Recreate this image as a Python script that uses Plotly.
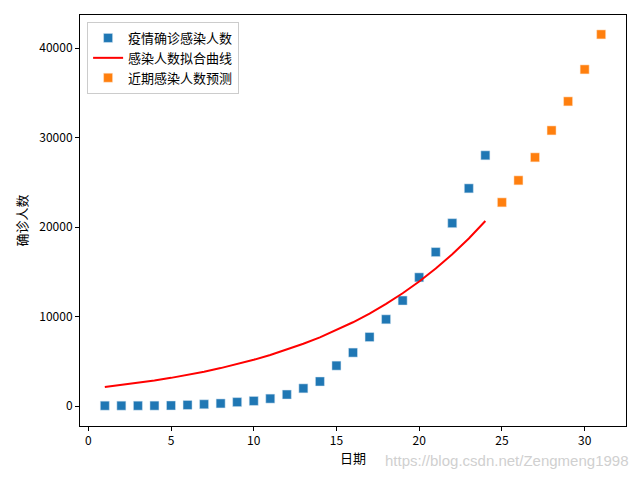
import plotly.graph_objects as go

days_obs = list(range(1, 25))
confirmed = [41, 41, 41, 45, 62, 121, 198, 291, 440, 571, 830, 1287, 1975, 2744,
             4515, 5974, 7711, 9692, 11791, 14380, 17205, 20438, 24324, 28018]
fit_days = list(range(1, 25))
fit_values = [2120, 2341, 2584, 2853, 3150, 3478, 3840, 4240, 4681, 5168, 5706, 6300,
              6956, 7680, 8480, 9362, 10337, 11413, 12601, 13912, 15360, 16960, 18725, 20674]
days_pred = list(range(25, 32))
predicted = [22760, 25220, 27790, 30800, 34045, 37620, 41530]

x_ticks = [0, 5, 10, 15, 20, 25, 30]
y_ticks = [0, 10000, 20000, 30000, 40000]

font = "Noto Sans CJK SC, DejaVu Sans, sans-serif"

fig = go.Figure()
fig.add_trace(go.Scatter(x=days_obs, y=confirmed, mode="markers", name="疫情确诊感染人数",
                         marker=dict(symbol="square", size=9, color="#1f77b4",
                                     line=dict(width=0.5, color="#d8e6f2"))))
fig.add_trace(go.Scatter(x=fit_days, y=fit_values, mode="lines", name="感染人数拟合曲线",
                         line=dict(color="red", width=2)))
fig.add_trace(go.Scatter(x=days_pred, y=predicted, mode="markers", name="近期感染人数预测",
                         marker=dict(symbol="square", size=9, color="#ff7f0e",
                                     line=dict(width=0.5, color="#ffe6d0"))))

axis_common = dict(showline=True, linecolor="black", linewidth=1, mirror=True,
                   ticks="outside", ticklen=4, tickcolor="black", showgrid=False,
                   zeroline=False, tickfont=dict(size=12, color="black", family=font))

fig.update_layout(
    width=640, height=480,
    margin=dict(l=80, r=14, t=15, b=54),
    paper_bgcolor="white", plot_bgcolor="white",
    font=dict(family=font, size=13, color="black"),
    xaxis=dict(range=[-0.5, 32.5], tickvals=x_ticks, title=dict(text="日期", standoff=6,
               font=dict(size=13)), **axis_common),
    yaxis=dict(range=[-2230, 43700], tickvals=y_ticks, tickformat="d",
               title=dict(text="确诊人数", standoff=8, font=dict(size=13)), **axis_common),
    legend=dict(x=0.013, y=0.983, xanchor="left", yanchor="top",
                bgcolor="rgba(255,255,255,0.8)", bordercolor="#cccccc", borderwidth=1,
                font=dict(size=13, family=font), itemwidth=30, tracegroupgap=0),
    showlegend=True,
)
fig.add_annotation(text="https://blog.csdn.net/Zengmeng1998", xref="paper", yref="paper",
                   x=1.01, y=-0.083, xanchor="right", yanchor="middle", showarrow=False,
                   font=dict(size=15, color="#d0d0d0", family="Liberation Sans Narrow, Liberation Sans, sans-serif"))

fig.write_html("out.html")
